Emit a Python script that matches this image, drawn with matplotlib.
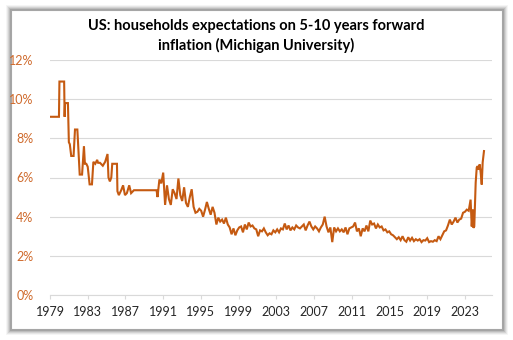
import numpy as np
import matplotlib.pyplot as plt
from matplotlib.patches import Rectangle

plt.rcParams['font.family'] = ['Lato', 'DejaVu Sans']

# sparse survey readings before the monthly series starts
early_years = [1979.0, 1979.95, 1980.0, 1980.5, 1980.55, 1980.6, 1980.9, 1981.0, 1981.1,
               1981.25, 1981.5, 1981.65, 1981.9, 1982.15, 1982.4, 1982.6, 1982.7, 1982.85,
               1983.0, 1983.2, 1983.45, 1983.6, 1983.8, 1984.0, 1984.1, 1984.3, 1984.6,
               1984.85, 1985.1, 1985.2, 1985.35, 1985.5, 1985.6, 1986.1, 1986.15, 1986.3,
               1986.55, 1986.75, 1986.95, 1987.15, 1987.4, 1987.6, 1987.8, 1987.9, 1990.3]
early_vals = [9.1, 9.1, 10.9, 10.9, 9.1, 9.8, 9.8, 7.8, 7.7,
              7.1, 7.1, 8.45, 8.45, 6.15, 6.15, 7.6, 6.7, 6.7,
              6.55, 5.65, 5.65, 6.8, 6.7, 6.9, 6.75, 6.75, 6.6,
              6.8, 7.2, 6.0, 5.8, 6.0, 6.7, 6.7, 5.3, 5.1,
              5.35, 5.6, 5.1, 5.2, 5.6, 5.2, 5.3, 5.35, 5.35]

# 1990.4 - 2018.8, evenly spaced readings
mid_vals = [5.0, 5.9, 5.7,
            6.25, 4.6, 5.6, 4.9, 4.6,
            5.4, 5.2, 4.9, 5.95, 5.1,
            4.8, 5.5, 4.7, 4.5, 5.0,
            5.4, 4.5, 4.2, 4.25, 4.4,
            4.3, 4.0, 4.35, 4.75, 4.4,
            4.1, 4.5, 4.2, 3.6, 3.95,
            3.75, 3.85, 3.65, 3.95, 3.6,
            3.45, 3.1, 3.4, 3.05, 3.3,
            3.45, 3.5, 3.2, 3.6, 3.35,
            3.7, 3.5, 3.55, 3.4, 3.35,
            3.0, 3.3, 3.25, 3.4, 3.2,
            3.05, 3.15, 3.1, 3.3, 3.2,
            3.35, 3.2, 3.4, 3.35, 3.65,
            3.35, 3.55, 3.3, 3.45, 3.35,
            3.55, 3.45, 3.4, 3.5, 3.6,
            3.3, 3.55, 3.75, 3.5, 3.35,
            3.5, 3.4, 3.25, 3.45, 3.6,
            4.0, 3.5, 3.2, 3.45, 2.7,
            3.45, 3.25, 3.4, 3.25, 3.35,
            3.2, 3.45, 3.1, 3.4, 3.45,
            3.5, 3.7, 3.25, 3.4, 3.0,
            3.4, 3.25, 3.55, 3.25, 3.8,
            3.6, 3.65, 3.4, 3.6, 3.45,
            3.5, 3.3, 3.35, 3.2, 3.25,
            3.1, 3.05, 2.95, 2.85, 2.95,
            2.8, 3.0, 2.8, 2.72, 2.95,
            2.78, 2.92, 2.75, 2.85, 2.78,
            2.85, 2.7, 2.8, 2.78]
mid_years = np.linspace(1990.4, 2018.8, len(mid_vals))

recent_years = [2019.0, 2019.2, 2019.4, 2019.6, 2019.8, 2020.0, 2020.2, 2020.4, 2020.6,
                2020.8, 2021.0, 2021.2, 2021.4, 2021.6, 2021.8, 2022.0, 2022.2, 2022.4,
                2022.6, 2022.8, 2023.0, 2023.2, 2023.4, 2023.6, 2023.72, 2023.83, 2023.89,
                2023.99, 2024.14, 2024.25, 2024.35, 2024.46, 2024.56, 2024.67, 2024.78,
                2024.88, 2025.02]
recent_vals = [2.9, 2.7, 2.75, 2.72, 2.8, 2.75, 3.0, 2.85, 3.05,
               3.25, 3.3, 3.55, 3.85, 3.6, 3.75, 3.95, 3.7, 3.85,
               3.9, 4.2, 4.25, 4.36, 4.3, 4.87, 3.5, 4.36, 3.43,
               3.5, 5.74, 6.5, 6.58, 6.4, 6.67, 6.25, 5.64,
               6.77, 7.35]

x = np.concatenate([early_years, mid_years, recent_years])
y = np.concatenate([early_vals, mid_vals, recent_vals])

year_ticks = list(range(1979, 2024, 4))
line_color = '#C55A11'

fig = plt.figure(figsize=(5.13, 3.40), dpi=100)
fig.patch.set_facecolor('white')

# soft shadow behind the chart box
W, H = 513, 340
bx0, by0, bx1, by1 = 11, 10, 502, 329
for k, a in zip(range(6, 0, -1), [0.04, 0.06, 0.08, 0.10, 0.13, 0.16]):
    fig.patches.append(Rectangle(((bx0 - k + 1) / W, (H - by1 - k) / H),
                                 (bx1 - bx0 + 2 * k - 1) / W, (by1 - by0 + 2 * k - 1) / H,
                                 transform=fig.transFigure, facecolor='black',
                                 edgecolor='none', alpha=a, zorder=-3))
fig.patches.append(Rectangle((bx0 / W, (H - by1) / H), (bx1 - bx0) / W, (by1 - by0) / H,
                             transform=fig.transFigure, facecolor='white',
                             edgecolor='#A6A6A6', linewidth=0.8, zorder=-2))

ax = fig.add_axes([50 / W, 45 / H, 442 / W, 235 / H])
ax.set_facecolor('none')
ax.plot(x, y, color=line_color, linewidth=1.5, solid_joinstyle='miter')

ax.set_xlim(1979.0, 2025.87)
ax.set_ylim(0, 12)
ax.set_yticks(np.arange(0, 13, 2))
ax.set_yticklabels([f'{v}%' for v in range(0, 13, 2)])
ax.set_xticks(year_ticks)
ax.set_xticklabels([str(t) for t in year_ticks])

ax.grid(axis='y', color='#D9D9D9', linewidth=0.8)
ax.set_axisbelow(True)
for s in ['left', 'right', 'top']:
    ax.spines[s].set_visible(False)
ax.spines['bottom'].set_color('#D9D9D9')
ax.spines['bottom'].set_linewidth(0.8)

ax.tick_params(axis='y', length=0, pad=12, labelsize=9, labelcolor='#CF6A2C')
ax.tick_params(axis='x', length=3, width=0.8, color='#D9D9D9', pad=5,
               labelsize=9, labelcolor='#262626')

fig.text(0.5, (H - 19) / H, 'US: households expectations on 5-10 years forward\ninflation (Michigan University)',
         ha='center', va='top', fontsize=10.5, fontweight='bold', color='#000000',
         linespacing=1.45)

fig.savefig('out.png', dpi=100)
